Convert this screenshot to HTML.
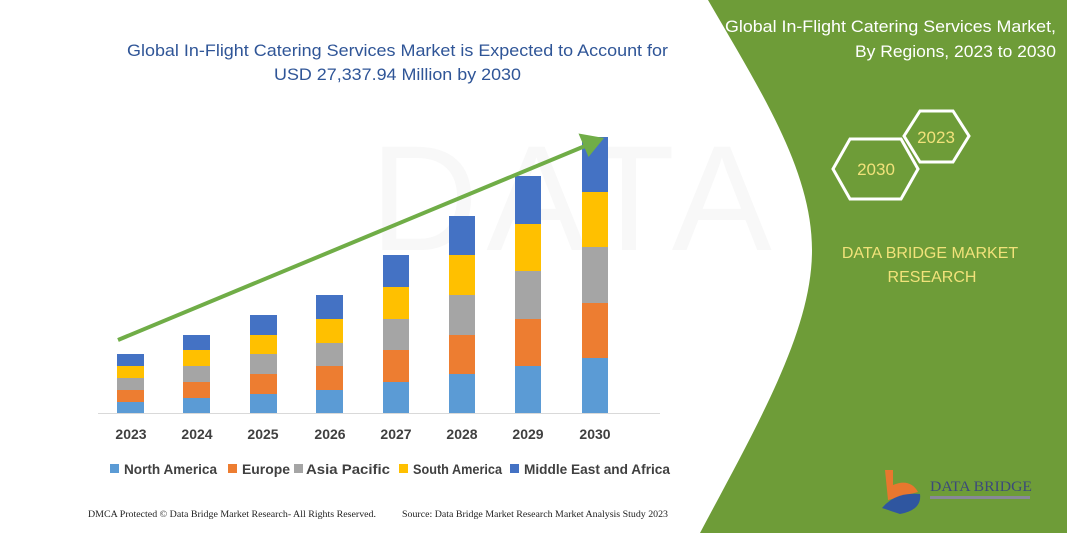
<!DOCTYPE html>
<html><head><meta charset="utf-8"><style>
html,body{margin:0;padding:0;background:#fff}
svg{display:block}
</style></head><body>
<svg width="1067" height="533" viewBox="0 0 1067 533" xmlns="http://www.w3.org/2000/svg" font-family="Liberation Sans, sans-serif">
<rect width="1067" height="533" fill="#fff"/>
<text x="370" y="250" font-size="150" fill="#f8f8f8" letter-spacing="8">DATA BRIDGE</text>
<path d="M708 0 L1067 0 L1067 533 L700 533 C760 420 812 330 812 250 C812 170 760 90 708 0 Z" fill="#6e9c38"/>
<text x="725" y="32" font-size="17" fill="#fff" textLength="331" lengthAdjust="spacingAndGlyphs">Global In-Flight Catering Services Market,</text>
<text x="855" y="57" font-size="17" fill="#fff" textLength="201" lengthAdjust="spacingAndGlyphs">By Regions, 2023 to 2030</text>
<polygon points="904,136 920,111 953,111 969,136 953,162 920,162" fill="none" stroke="#fff" stroke-width="3"/>
<text x="936" y="143" font-size="17" fill="#f1e27a" text-anchor="middle">2023</text>
<polygon points="833,169 850,139 901,139 918,169 901,199 850,199" fill="none" stroke="#fff" stroke-width="3"/>
<text x="876" y="175" font-size="17" fill="#f1e27a" text-anchor="middle">2030</text>
<text x="930" y="258" font-size="16" fill="#f1e27a" text-anchor="middle">DATA BRIDGE MARKET</text>
<text x="932" y="282" font-size="16" fill="#f1e27a" text-anchor="middle">RESEARCH</text>
<path d="M885 470 L893 470 L893 485 Q910 478 918 492 L888 500 Z" fill="#e8772e"/>
<path d="M882 508 Q895 492 920 494 Q922 510 900 514 Z" fill="#2f56a0"/>
<text x="930" y="491" font-size="15" fill="#3c4a7a" font-family="Liberation Serif, serif" textLength="102" lengthAdjust="spacingAndGlyphs">DATA BRIDGE</text>
<rect x="930" y="496" width="100" height="3" fill="#889"/>
<text x="127" y="56" font-size="17" fill="#2f5597" textLength="541" lengthAdjust="spacingAndGlyphs">Global In-Flight Catering Services Market is Expected to Account for</text>
<text x="274" y="80" font-size="17" fill="#2f5597" textLength="247" lengthAdjust="spacingAndGlyphs">USD 27,337.94 Million by 2030</text>
<g>
<rect x="117" y="402" width="27" height="11" fill="#5b9bd5"/><rect x="117" y="390" width="27" height="12" fill="#ed7d31"/><rect x="117" y="378" width="27" height="12" fill="#a5a5a5"/><rect x="117" y="366" width="27" height="12" fill="#ffc000"/><rect x="117" y="354" width="27" height="12" fill="#4472c4"/>
<rect x="183" y="398" width="27" height="15" fill="#5b9bd5"/><rect x="183" y="382" width="27" height="16" fill="#ed7d31"/><rect x="183" y="366" width="27" height="16" fill="#a5a5a5"/><rect x="183" y="350" width="27" height="16" fill="#ffc000"/><rect x="183" y="335" width="27" height="15" fill="#4472c4"/>
<rect x="250" y="394" width="27" height="19" fill="#5b9bd5"/><rect x="250" y="374" width="27" height="20" fill="#ed7d31"/><rect x="250" y="354" width="27" height="20" fill="#a5a5a5"/><rect x="250" y="335" width="27" height="19" fill="#ffc000"/><rect x="250" y="315" width="27" height="20" fill="#4472c4"/>
<rect x="316" y="390" width="27" height="23" fill="#5b9bd5"/><rect x="316" y="366" width="27" height="24" fill="#ed7d31"/><rect x="316" y="343" width="27" height="23" fill="#a5a5a5"/><rect x="316" y="319" width="27" height="24" fill="#ffc000"/><rect x="316" y="295" width="27" height="24" fill="#4472c4"/>
<rect x="383" y="382" width="26" height="31" fill="#5b9bd5"/><rect x="383" y="350" width="26" height="32" fill="#ed7d31"/><rect x="383" y="319" width="26" height="31" fill="#a5a5a5"/><rect x="383" y="287" width="26" height="32" fill="#ffc000"/><rect x="383" y="255" width="26" height="32" fill="#4472c4"/>
<rect x="449" y="374" width="26" height="39" fill="#5b9bd5"/><rect x="449" y="335" width="26" height="39" fill="#ed7d31"/><rect x="449" y="295" width="26" height="40" fill="#a5a5a5"/><rect x="449" y="255" width="26" height="40" fill="#ffc000"/><rect x="449" y="216" width="26" height="39" fill="#4472c4"/>
<rect x="515" y="366" width="26" height="47" fill="#5b9bd5"/><rect x="515" y="319" width="26" height="47" fill="#ed7d31"/><rect x="515" y="271" width="26" height="48" fill="#a5a5a5"/><rect x="515" y="224" width="26" height="47" fill="#ffc000"/><rect x="515" y="176" width="26" height="48" fill="#4472c4"/>
<rect x="582" y="358" width="26" height="55" fill="#5b9bd5"/><rect x="582" y="303" width="26" height="55" fill="#ed7d31"/><rect x="582" y="247" width="26" height="56" fill="#a5a5a5"/><rect x="582" y="192" width="26" height="55" fill="#ffc000"/><rect x="582" y="137" width="26" height="55" fill="#4472c4"/>
</g>
<line x1="98" y1="413.5" x2="660" y2="413.5" stroke="#d9d9d9" stroke-width="1"/>
<line x1="118" y1="340" x2="585" y2="146" stroke="#70ad47" stroke-width="4"/>
<polygon points="604,138 588.5,157 578.5,133.5" fill="#70ad47"/>
<g font-size="14" font-weight="bold" fill="#404040" text-anchor="middle">
<text x="131" y="439">2023</text><text x="197" y="439">2024</text><text x="263" y="439">2025</text><text x="330" y="439">2026</text><text x="396" y="439">2027</text><text x="462" y="439">2028</text><text x="528" y="439">2029</text><text x="595" y="439">2030</text>
</g>
<g font-size="14" font-weight="bold" fill="#404040">
<rect x="110" y="464" width="9" height="9" fill="#5b9bd5"/><text x="124" y="474" textLength="93" lengthAdjust="spacingAndGlyphs">North America</text>
<rect x="228" y="464" width="9" height="9" fill="#ed7d31"/><text x="242" y="474" textLength="48" lengthAdjust="spacingAndGlyphs">Europe</text>
<rect x="294" y="464" width="9" height="9" fill="#a5a5a5"/><text x="306" y="474" textLength="84" lengthAdjust="spacingAndGlyphs">Asia Pacific</text>
<rect x="399" y="464" width="9" height="9" fill="#ffc000"/><text x="413" y="474" textLength="89" lengthAdjust="spacingAndGlyphs">South America</text>
<rect x="510" y="464" width="9" height="9" fill="#4472c4"/><text x="524" y="474" textLength="146" lengthAdjust="spacingAndGlyphs">Middle East and Africa</text>
</g>
<text x="88" y="517" font-size="9" fill="#222" font-family="Liberation Serif, serif" textLength="288" lengthAdjust="spacingAndGlyphs">DMCA Protected © Data Bridge Market Research-  All Rights Reserved.</text>
<text x="402" y="517" font-size="9" fill="#222" font-family="Liberation Serif, serif" textLength="266" lengthAdjust="spacingAndGlyphs">Source:  Data Bridge Market Research  Market Analysis Study 2023</text>
</svg>
</body></html>
